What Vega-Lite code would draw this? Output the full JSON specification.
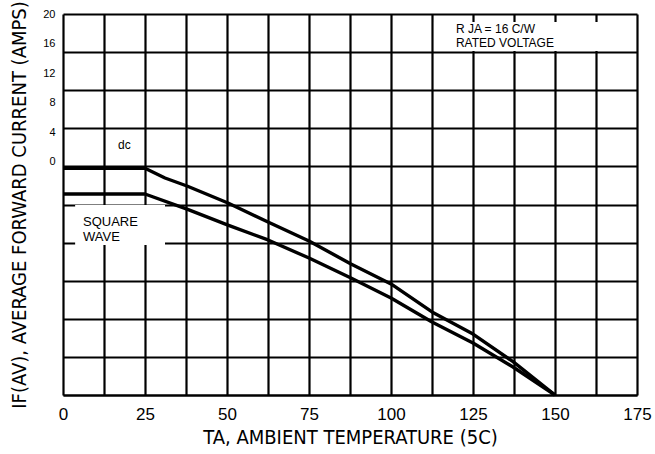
{
  "$schema": "https://vega.github.io/schema/vega-lite/v6.json",
  "width": 574,
  "height": 381,
  "autosize": {"type": "none"},
  "padding": {"left": 63, "top": 14, "right": 18, "bottom": 59},
  "background": "white",
  "config": {
    "view": {"stroke": null},
    "axis": {"gridColor": "black", "gridOpacity": 1, "gridWidth": 2.2, "labelColor": "black", "titleColor": "black", "labelFont": "Liberation Sans", "titleFont": "Liberation Sans Narrow, DejaVu Sans Condensed, Liberation Sans", "titleFontWeight": "normal"},
    "text": {"font": "Liberation Sans", "color": "black"}
  },
  "datasets": {
    "curves": [
      {"series": "dc", "temp": 0, "current": 11.9},
      {"series": "dc", "temp": 25, "current": 11.9},
      {"series": "dc", "temp": 31.1, "current": 11.39},
      {"series": "dc", "temp": 37.8, "current": 10.97},
      {"series": "dc", "temp": 50.3, "current": 10.08},
      {"series": "dc", "temp": 62.5, "current": 9.08},
      {"series": "dc", "temp": 75, "current": 8.08},
      {"series": "dc", "temp": 87.8, "current": 6.88},
      {"series": "dc", "temp": 100, "current": 5.83},
      {"series": "dc", "temp": 112.5, "current": 4.36},
      {"series": "dc", "temp": 125, "current": 3.2},
      {"series": "dc", "temp": 137.2, "current": 1.75},
      {"series": "dc", "temp": 150, "current": 0},
      {"series": "square", "temp": 0, "current": 10.55},
      {"series": "square", "temp": 25, "current": 10.55},
      {"series": "square", "temp": 37.8, "current": 9.76},
      {"series": "square", "temp": 50.3, "current": 8.92},
      {"series": "square", "temp": 62.5, "current": 8.14},
      {"series": "square", "temp": 75, "current": 7.19},
      {"series": "square", "temp": 87.8, "current": 6.14},
      {"series": "square", "temp": 100, "current": 5.09},
      {"series": "square", "temp": 112.5, "current": 3.83},
      {"series": "square", "temp": 125, "current": 2.73},
      {"series": "square", "temp": 137.2, "current": 1.47},
      {"series": "square", "temp": 150, "current": 0}
    ],
    "boxes": [
      {"x1": 3.7, "x2": 31.1, "y1": 7.87, "y2": 9.97},
      {"x1": 113.1, "x2": 174.6, "y1": 18.06, "y2": 19.58}
    ],
    "notes": [
      {"label": "dc", "tx": 16.8, "ty": 13.1, "size": 12},
      {"label": "SQUARE", "tx": 6.1, "ty": 9.08, "size": 13},
      {"label": "WAVE", "tx": 6.1, "ty": 8.29, "size": 13},
      {"label": "R  JA = 16 C/W", "tx": 119.8, "ty": 19.21, "size": 12},
      {"label": "RATED VOLTAGE", "tx": 119.8, "ty": 18.5, "size": 12}
    ]
  },
  "layer": [
    {
      "layer": [
        {
          "data": {"name": "boxes"},
          "mark": {"type": "rect", "fill": "white", "stroke": null},
          "encoding": {
            "x": {"field": "x1", "type": "quantitative", "scale": {"domain": [0, 175], "nice": false, "zero": false},
              "axis": {"values": [0, 12.5, 25, 37.5, 50, 62.5, 75, 87.5, 100, 112.5, 125, 137.5, 150, 162.5, 175],
                "tickCount": 20,
                "labelExpr": "datum.value % 25 === 0 ? datum.label : ''", "labelFlush": false, "labelOverlap": false,
                "labelDx": 3, "labelFontSize": 17, "labelPadding": 11, "ticks": false,
                "domain": true, "domainColor": "black", "domainWidth": 2.2, "grid": true,
                "title": "TA, AMBIENT TEMPERATURE (5C)", "titleFontSize": 20, "titlePadding": 5}},
            "x2": {"field": "x2"},
            "y": {"field": "y1", "type": "quantitative", "scale": {"domain": [0, 20], "nice": false, "zero": false},
              "axis": {"orient": "right", "values": [0, 2, 4, 6, 8, 10, 12, 14, 16, 18, 20], "tickCount": 20, "grid": true, "labels": false, "ticks": false, "domain": false, "title": null}},
            "y2": {"field": "y2"}
          }
        },
        {
          "data": {"name": "curves"},
          "mark": {"type": "line", "color": "black", "strokeWidth": 3.4, "strokeJoin": "round"},
          "encoding": {
            "x": {"field": "temp", "type": "quantitative"},
            "y": {"field": "current", "type": "quantitative"},
            "detail": {"field": "series"}
          }
        },
        {
          "data": {"name": "notes"},
          "mark": {"type": "text", "align": "left", "baseline": "middle"},
          "encoding": {
            "x": {"field": "tx", "type": "quantitative"},
            "y": {"field": "ty", "type": "quantitative"},
            "text": {"field": "label"},
            "size": {"field": "size", "type": "quantitative", "scale": null}
          }
        }
      ]
    },
    {
      "data": {"name": "notes"},
      "mark": {"type": "rule", "opacity": 0},
      "encoding": {
        "y": {"datum": 0, "type": "quantitative", "scale": {"domain": [-31.5, 20], "nice": false, "zero": false},
          "axis": {"orient": "left", "values": [0, 4, 8, 12, 16, 20], "tickCount": 10, "grid": false, "ticks": false, "domain": false,
            "labelFontSize": 11, "labelPadding": 8,
            "title": "IF(AV), AVERAGE FORWARD CURRENT (AMPS)", "titleFontSize": 20, "titlePadding": 13}}
      }
    }
  ],
  "resolve": {"scale": {"y": "independent"}, "axis": {"y": "independent"}}
}
